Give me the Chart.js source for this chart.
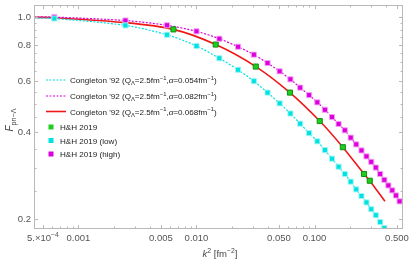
<!DOCTYPE html>
<html>
<head>
<meta charset="utf-8">
<script src="https://cdn.jsdelivr.net/npm/chart.js@4/dist/chart.umd.min.js"></script>
<style>
  html, body { margin: 0; padding: 0; background: #fff; }
  canvas { display: block; }
</style>
</head>
<body>
<canvas id="chart" width="411" height="262"></canvas>
<script>
// k^2 grid of the H&H 2019 low/high sets (fm^-2)
const kSq = [0.000625, 0.0025, 0.005625, 0.01, 0.015625, 0.0225, 0.030625, 0.04, 0.050625, 0.0625,
  0.075625, 0.09, 0.105625, 0.1225, 0.140625, 0.16, 0.180625, 0.2025, 0.225625, 0.25,
  0.275625, 0.3025, 0.330625, 0.36, 0.390625, 0.4225, 0.455625, 0.49, 0.525625];
const highF = [0.998, 0.971, 0.935, 0.891, 0.840, 0.788, 0.740, 0.692, 0.648, 0.608,
  0.569, 0.536, 0.506, 0.477, 0.450, 0.426, 0.405, 0.382, 0.362, 0.345,
  0.329, 0.315, 0.301, 0.286, 0.273, 0.261, 0.251, 0.241, 0.230];
const lowF = [0.987, 0.934, 0.867, 0.793, 0.719, 0.656, 0.599, 0.547, 0.502, 0.463,
  0.427, 0.396, 0.371, 0.346, 0.323, 0.303, 0.286, 0.269, 0.253, 0.240,
  0.228, 0.216, 0.206, 0.195, 0.186];

// H&H 2019 (central)
const hhK2 = [0.00638, 0.01455, 0.0318, 0.0619, 0.1107, 0.1738, 0.2627, 0.2937];
const hhF = [0.905, 0.802, 0.673, 0.547, 0.436, 0.354, 0.286, 0.271];

// Congleton '92 curves
const lineStartK2 = 0.00042;
const lowStartF = 0.991;
const highStartF = 0.999;
const midK2 = [0.00042, 0.000625, 0.0025, 0.00638, 0.01455, 0.0318, 0.0619, 0.1107, 0.1738, 0.2627, 0.2937, 0.395];
const midF = [0.996, 0.993, 0.955, 0.905, 0.802, 0.673, 0.547, 0.436, 0.354, 0.286, 0.271, 0.230];

// ticks
const xMajor = [0.0005, 0.001, 0.005, 0.01, 0.05, 0.1, 0.5];
const xLabels = [[['5.×10', ''], ['−4', 'sup']], '0.001', '0.005', '0.010', '0.050', '0.100', '0.500'];
const xMinor = [0.0006, 0.0007, 0.0008, 0.0009, 0.002, 0.003, 0.004, 0.006, 0.007, 0.008, 0.009,
  0.02, 0.03, 0.04, 0.06, 0.07, 0.08, 0.09, 0.2, 0.3, 0.4];
const yMajor = [0.2, 0.4, 0.6, 0.8, 1.0];
const yLabels = ['0.2', '0.4', '0.6', '0.8', '1.0'];
const yMinor = [0.25, 0.3, 0.35, 0.45, 0.5, 0.55, 0.65, 0.7, 0.75, 0.85, 0.9, 0.95];

const CYAN = 'rgb(0,225,225)';
const MAGENTA = 'rgb(220,0,220)';
const RED = 'rgb(238,24,24)';
const GREEN = 'rgb(30,205,30)';
const FONT = '"Liberation Sans", Arial, sans-serif';

const pts = (xs, ys) => ys.map((y, i) => ({ x: xs[i], y }));

function fontFor(p, size) {
  const small = p[1] === 'sup' || p[1] === 'sub';
  return (p[1] === 'i' ? 'italic ' : '') + (small ? size * 0.72 : size) + 'px ' + FONT;
}
function drawRich(ctx, parts, x, y, size, align) {
  if (typeof parts === 'string') parts = [[parts, '']];
  let w = 0;
  parts.forEach(p => { ctx.font = fontFor(p, size); w += ctx.measureText(p[0]).width; });
  let cx = align === 'center' ? x - w / 2 : align === 'right' ? x - w : x;
  ctx.textAlign = 'left';
  ctx.textBaseline = 'alphabetic';
  parts.forEach(p => {
    ctx.font = fontFor(p, size);
    const dy = p[1] === 'sup' ? -size * 0.4 : p[1] === 'sub' ? size * 0.28 : 0;
    ctx.fillText(p[0], cx, y + dy);
    cx += ctx.measureText(p[0]).width;
  });
}

const legendRows = [
  { kind: 'line', color: CYAN, dash: [2, 1.5], w: 1.2, alpha: '0.054' },
  { kind: 'line', color: MAGENTA, dash: [2, 1.5], w: 1.2, alpha: '0.082' },
  { kind: 'line', color: RED, dash: [], w: 1.6, alpha: '0.068' },
  { kind: 'mark', color: GREEN, text: 'H&H 2019' },
  { kind: 'mark', color: CYAN, text: 'H&H 2019 (low)' },
  { kind: 'mark', color: MAGENTA, text: 'H&H 2019 (high)' }
];
const legendY = [80, 96, 111.5, 127, 140.5, 154];

const framePlugin = {
  id: 'frame',
  afterDraw(chart) {
    const { ctx, chartArea: a, scales: { x, y } } = chart;
    ctx.save();
    ctx.strokeStyle = '#b8b8b8';
    ctx.lineWidth = 1;
    ctx.strokeRect(a.left + 0.5, a.top + 0.5, a.width - 1, a.height - 1);

    ctx.beginPath();
    const tx = (v, len) => {
      const px = Math.round(x.getPixelForValue(v)) + 0.5;
      ctx.moveTo(px, a.bottom); ctx.lineTo(px, a.bottom - len);
      ctx.moveTo(px, a.top); ctx.lineTo(px, a.top + len);
    };
    const ty = (v, len) => {
      const py = Math.round(y.getPixelForValue(v)) + 0.5;
      ctx.moveTo(a.left, py); ctx.lineTo(a.left + len, py);
      ctx.moveTo(a.right, py); ctx.lineTo(a.right - len, py);
    };
    xMajor.forEach(v => tx(v, 4));
    xMinor.forEach(v => tx(v, 2.5));
    yMajor.forEach(v => ty(v, 4));
    yMinor.forEach(v => ty(v, 2.5));
    ctx.stroke();

    // tick labels
    ctx.fillStyle = '#555';
    xMajor.forEach((v, i) => drawRich(ctx, xLabels[i], x.getPixelForValue(v), a.bottom + 12, 9.5, 'center'));
    yMajor.forEach((v, i) => drawRich(ctx, yLabels[i], a.left - 3, y.getPixelForValue(v) + 3.5, 9.5, 'right'));

    // axis titles
    ctx.fillStyle = '#444';
    drawRich(ctx, [['k', 'i'], ['2', 'sup'], [' [fm', ''], ['−2', 'sup'], [']', '']], 220, 257, 9.5, 'center');
    ctx.save();
    ctx.translate(13, 120);
    ctx.rotate(-Math.PI / 2);
    drawRich(ctx, [['F', 'i'], ['pn−Λ', 'sub']], 0, 0, 10, 'center');
    ctx.restore();

    // legend
    legendRows.forEach((r, i) => {
      const ly = legendY[i];
      ctx.fillStyle = '#222';
      if (r.kind === 'line') {
        ctx.strokeStyle = r.color;
        ctx.lineWidth = r.w;
        ctx.setLineDash(r.dash);
        ctx.beginPath();
        ctx.moveTo(46, ly); ctx.lineTo(66, ly);
        ctx.stroke();
        ctx.setLineDash([]);
        drawRich(ctx, [["Congleton '92 (Q", ''], ['Λ', 'sub'], ['=2.5fm', ''], ['−1', 'sup'],
          [',', ''], ['α', 'i'], ['=' + r.alpha + 'fm', ''], ['−1', 'sup'], [')', '']], 70, ly + 3, 8.1, 'left');
      } else {
        ctx.fillStyle = r.color;
        ctx.fillRect(48.5, ly - 2.5, 5, 5);
        ctx.fillStyle = '#222';
        drawRich(ctx, r.text, 60, ly + 3, 8.1, 'left');
      }
    });
    ctx.restore();
  }
};

const lineStyle = (color, dash, w) => ({
  type: 'scatter', showLine: true, borderColor: color, borderWidth: w, borderDash: dash,
  pointRadius: 0, fill: false, tension: 0.3, order: 2
});
const markStyle = (color, edge) => ({
  type: 'scatter', showLine: false, pointStyle: 'rect', pointRadius: 3.6,
  backgroundColor: color, borderColor: edge, borderWidth: 1, order: 1
});

new Chart(document.getElementById('chart'), {
  type: 'scatter',
  data: {
    datasets: [
      { ...lineStyle(CYAN, [2, 1.5], 1.2), data: pts([lineStartK2, ...kSq], [lowStartF, ...lowF]) },
      { ...lineStyle(MAGENTA, [2, 1.5], 1.2), data: pts([lineStartK2, ...kSq], [highStartF, ...highF]) },
      { ...lineStyle(RED, [], 1.6), data: pts(midK2, midF) },
      { ...markStyle(CYAN, 'rgba(160,245,245,0.9)'), data: pts(kSq, lowF) },
      { ...markStyle(MAGENTA, 'rgba(245,160,245,0.9)'), data: pts(kSq, highF) },
      { ...markStyle(GREEN, 'rgb(20,140,20)'), data: pts(hhK2, hhF) }
    ]
  },
  options: {
    responsive: false,
    animation: false,
    layout: { padding: { left: 34, right: 8, top: 2, bottom: 33 } },
    scales: {
      x: { type: 'logarithmic', min: 0.00042, max: 0.562, display: false },
      y: { type: 'logarithmic', min: 0.1845, max: 1.099, display: false }
    },
    plugins: { legend: { display: false }, tooltip: { enabled: false } }
  },
  plugins: [framePlugin]
});
</script>
</body>
</html>
